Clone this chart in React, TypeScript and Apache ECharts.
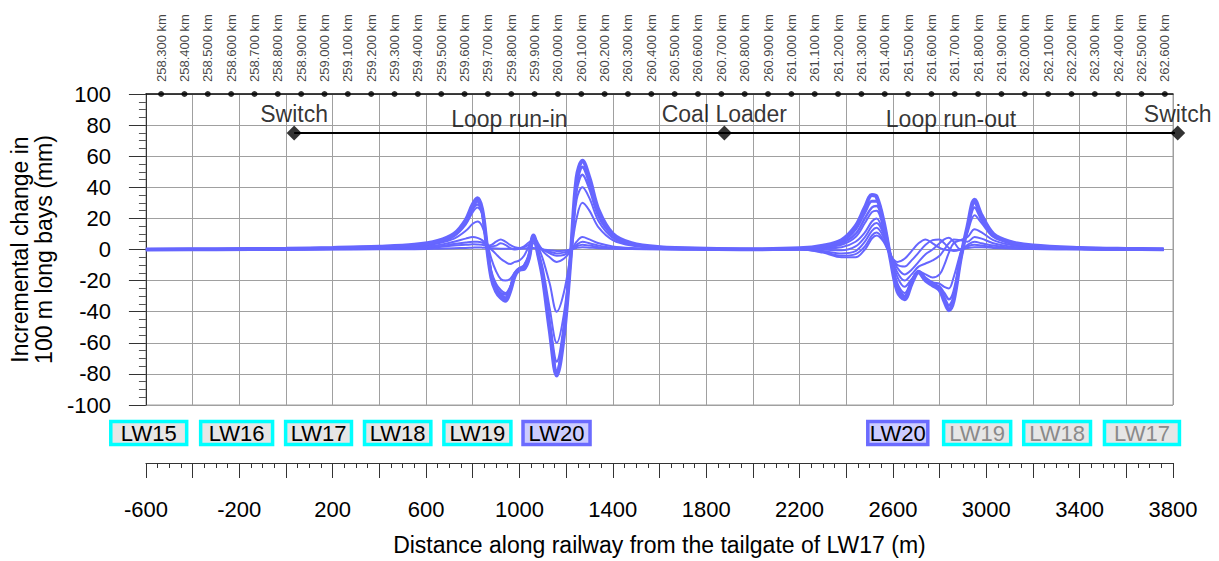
import React, { useEffect, useRef } from 'react';
import * as echarts from 'echarts';

const FONT = '"Liberation Sans", Arial, Helvetica, sans-serif';

// distance along railway (m) sample positions
const X_LEFT = [-600, -300, 0, 200, 400, 550, 650, 720, 770, 800, 820, 840, 860, 880, 900, 920, 940, 960, 980, 1000, 1020, 1040, 1060, 1080, 1100, 1130, 1160, 1190, 1220, 1245, 1270, 1300, 1340, 1400, 1480, 1600, 1800, 2000];
const X_RIGHT = [2200, 2300, 2380, 2440, 2480, 2510, 2530, 2560, 2590, 2620, 2650, 2680, 2710, 2740, 2770, 2800, 2820, 2840, 2860, 2890, 2920, 2950, 2980, 3030, 3100, 3200, 3400, 3600, 3760];
const DIST = [...X_LEFT, ...X_RIGHT];

// incremental change (mm), one array per survey stage
const S1 = [0, 0, 0, 0, 0.1, 0.2, 0.5, 0.8, 1, 1.2, 1.3, 1.2, 1, 0.8, 0.6, 0.5, 0.5, 0.5, 0.5, 0.5, 0.6, 0.8, 1, 0.5, 0, -0.5, -1, -0.8, 0, 1, 1.5, 1.2, 0.8, 0.5, 0.3, 0.1, 0, 0,
  0, -2, -5, -5, 0, 7, 9, 5, -4, -8, -6, -1, 4, 6.5, 4, 1, 0, -0.5, -0.5, 0, 1, 1.5, 1.5, 1, 0.6, 0.3, 0.1, 0, 0];
const S2 = [0, 0, 0.1, 0.2, 0.4, 0.8, 1.5, 2.5, 3, 3.3, 3.2, 3, 2.5, 3, 5, 6.5, 5, 3, 1.5, 1, 1.5, 3, 4, 2, 0, -1.5, -2.5, -2, 0, 2, 3, 2.5, 1.5, 0.8, 0.4, 0.2, 0, 0,
  0, -1.5, -4, -3, 2, 9, 11, 6, -4, -10, -11, -7, -2, 3, 6, 6.5, 4, 1, -1, 0, 2, 3, 2.5, 1.5, 0.8, 0.4, 0.1, 0, 0];
const S3 = [0, 0, 0.1, 0.3, 0.6, 1.2, 2, 3.5, 4.5, 5, 5, 4.5, 3, 2, 2.5, 4, 3, 1, 0, 0.5, 2, 4.5, 6, 3, 0, -2.5, -4, -3.5, -0.5, 3, 5, 4, 2.5, 1.2, 0.6, 0.3, 0.1, 0,
  0, -1, -2.5, -1, 5, 12, 14, 8, -3, -12, -16, -13, -8, -3, 0, 4, 6.5, 7.5, 5, 0, 3, 5, 4, 2.5, 1.2, 0.5, 0.2, 0, 0];
const S4 = [0, 0, 0.1, 0.3, 0.7, 1.5, 2.8, 5, 7, 8, 7.5, 6, 3, 0, -3, -6, -8, -9.3, -8, -7, -4, 2, 8.5, 4, -1, -5, -8, -6, -1, 5, 8, 6.5, 4, 2, 1, 0.4, 0.1, 0,
  0.2, 0, -0.5, 2, 8, 15, 17, 10, -3, -15, -20, -16, -11, -9, -7, -4, 0, 4, 6.5, 6, 5, 8, 7, 4, 2, 0.8, 0.3, 0.1, 0];
const S5 = [0, 0.1, 0.2, 0.5, 1, 2, 3.8, 7, 12, 16.5, 18, 15, 5, -6, -14, -19, -20, -19, -15, -13, -10, -3, 8.5, 2, -6, -22, -40, -28, -3, 20, 30, 25, 14, 6, 2.5, 1, 0.3, 0.1,
  0.3, 0.8, 1.5, 5, 11, 18, 20, 11, -4, -18, -24, -19, -14, -16, -18, -16, -10, -2, 4, 6, 8, 13, 11, 6, 3, 1.2, 0.4, 0.1, 0];
const S6 = [0, 0.1, 0.3, 0.6, 1.3, 2.4, 4.5, 8.5, 16, 24, 27, 23, 3, -14, -22, -26, -28, -24, -15, -12, -10, -4, 9, -1, -12, -38, -60, -42, -4, 32, 40, 33, 18, 7.5, 3, 1.2, 0.4, 0.2,
  0.4, 1.4, 3, 8, 17, 24, 25, 13, -5, -22, -28, -20, -14, -18, -21, -22, -24, -25, -18, -2, 11, 22, 17, 8, 4, 1.8, 0.7, 0.3, 0.1];
const S7 = [0, 0.2, 0.4, 0.8, 1.6, 2.6, 4.8, 9, 17, 26, 29, 24, 3, -16, -24, -28, -29, -25, -15, -12, -11.5, -5.5, 8.5, -3, -16, -47, -72, -50, -4, 38, 48, 39, 21, 9, 3.5, 1.3, 0.4, 0.2,
  0.5, 1.8, 4, 10, 20, 27, 28, 15, -5, -24, -30, -21, -14, -19, -22, -24, -28, -32, -27, -5, 13, 27, 19, 9, 4.5, 2, 0.8, 0.3, 0.1];
const S8 = [0, 0.2, 0.4, 0.9, 1.7, 2.8, 5, 9.5, 18, 27, 31, 25, 3, -17, -25, -29, -31, -26, -16, -12.5, -12, -6, 9, -3, -17, -50, -78, -54, -4, 42, 53, 43, 23, 9.5, 3.8, 1.4, 0.5, 0.2,
  0.6, 2, 5, 13, 24, 31, 31, 17, -5, -25, -30, -21, -14, -19, -22, -25, -31, -36, -31, -6, 14, 30, 21, 9.5, 4.8, 2.3, 0.9, 0.4, 0.2];
const S9 = [0, 0.2, 0.5, 1, 1.8, 3, 5.5, 10, 19, 29, 33, 26, 3, -18, -27, -31, -33, -27, -17, -13, -12.5, -6, 9, -3, -18, -52, -81, -56, -4, 46, 57, 46, 25, 10, 4, 1.5, 0.5, 0.2,
  0.8, 2.5, 6, 15, 27, 35, 34, 18, -6, -27, -32, -22, -14.6, -20, -23, -26, -33, -39, -33, -6, 15, 32, 22, 10, 5, 2.5, 1, 0.4, 0.2];
const STAGES = [S1, S2, S3, S4, S5, S6, S7, S8, S9];

// chainage labels along the top
const KM_LABELS = ['258.300', '258.400', '258.500', '258.600', '258.700', '258.800', '258.900', '259.000', '259.100', '259.200',
  '259.300', '259.400', '259.500', '259.600', '259.700', '259.800', '259.900', '260.000', '260.100', '260.200',
  '260.300', '260.400', '260.500', '260.600', '260.700', '260.800', '260.900', '261.000', '261.100', '261.200',
  '261.300', '261.400', '261.500', '261.600', '261.700', '261.800', '261.900', '262.000', '262.100', '262.200',
  '262.300', '262.400', '262.500', '262.600'];
const KM_FIRST = 258.3;
const KM_FIRST_DIST = -535; // distance (m) of the first chainage mark

// railway features
const FEATURE_NAMES = ['Switch', 'Coal Loader', 'Switch'];
const FEATURE_DIST = [35, 1878, 3820];
const FEATURE_LEVEL = 75;
const FEATURE_LABEL_LEVEL = 87.3;
const SEGMENT_NAMES = ['Loop run-in', 'Loop run-out'];
const SEGMENT_DIST = [957, 2849];
const SEGMENT_LABEL_LEVEL = 84.2;

// longwall panels drawn under the chart
const PANEL_NAMES = ['LW15', 'LW16', 'LW17', 'LW18', 'LW19', 'LW20', 'LW20', 'LW19', 'LW18', 'LW17'];
const PANEL_FROM = [-757, -372, -8, 330, 670, 1009, 2486, 2811, 3154, 3500];
const PANEL_TO = [-419, -51, 287, 627, 970, 1309, 2756, 3111, 3453, 3834];
const PANEL_STATE = ['mined', 'mined', 'mined', 'mined', 'mined', 'active', 'active', 'dim', 'dim', 'dim'];

const LINE_COLOR = '#6666ff';
const GRID_COLOR = '#a0a0a0';

export default function App() {
  const ref = useRef<HTMLDivElement>(null);

  useEffect(() => {
    document.body.style.margin = '0';
    if (!ref.current) return;
    const chart = echarts.init(ref.current, undefined, { renderer: 'svg' });

    const widths = [2, 2, 2, 2, 2, 2, 2.5, 3, 4];
    const lineSeries = STAGES.map((s, i) => ({
      type: 'line',
      name: 'stage' + (i + 1),
      data: DIST.map((d, j) => [d, s[j]]),
      showSymbol: false,
      symbol: 'none',
      smooth: 0.35,
      silent: true,
      z: 3,
      lineStyle: { color: LINE_COLOR, width: widths[i] },
    }));

    const kmData = KM_LABELS.map((k) => [Math.round((parseFloat(k) - KM_FIRST) * 1000) + KM_FIRST_DIST, 100, k]);

    const option: any = {
      animation: false,
      textStyle: { fontFamily: FONT },
      grid: { left: 145, right: 46, top: 94, bottom: 151, show: true, borderColor: GRID_COLOR, borderWidth: 1 },
      xAxis: [
        {
          type: 'value', position: 'bottom', min: -600, max: 3800, interval: 200, offset: 58,
          axisLine: { show: true, onZero: false, lineStyle: { color: '#333', width: 1 } },
          axisTick: { show: true, inside: false, length: 15, lineStyle: { color: '#333' } },
          minorTick: { show: true, splitNumber: 4, length: 5, lineStyle: { color: '#333' } },
          splitLine: { show: true, lineStyle: { color: GRID_COLOR, width: 1 } },
          axisLabel: {
            margin: 35, fontSize: 22, color: '#000', fontFamily: FONT,
            formatter: (v: number) => (((v + 600) % 400 === 0) ? String(v) : ''),
          },
          name: 'Distance along railway from the tailgate of LW17 (m)',
          nameLocation: 'middle', nameGap: 70,
          nameTextStyle: { fontSize: 23, color: '#000', fontFamily: FONT },
        },
        {
          type: 'value', position: 'top', min: -600, max: 3800,
          axisLine: { show: true, onZero: false, lineStyle: { color: '#111', width: 1.5 } },
          axisTick: { show: false }, axisLabel: { show: false }, splitLine: { show: false },
        },
      ],
      yAxis: {
        type: 'value', min: -100, max: 100, interval: 20,
        axisLine: { show: true, onZero: false, lineStyle: { color: '#333' } },
        axisTick: { show: true, length: 17, lineStyle: { color: '#333' } },
        minorTick: { show: true, splitNumber: 4, length: 7, lineStyle: { color: '#555' } },
        splitLine: { show: true, lineStyle: { color: GRID_COLOR } },
        axisLabel: { margin: 35, fontSize: 22, color: '#000', fontFamily: FONT },
        name: 'Incremental change in\n100 m long bays (mm)',
        nameLocation: 'middle', nameGap: 88,
        nameTextStyle: { fontSize: 23, lineHeight: 24, color: '#000', fontFamily: FONT },
      },
      series: [
        ...lineSeries,
        {
          type: 'line', name: 'railway', data: [[FEATURE_DIST[0], FEATURE_LEVEL], [FEATURE_DIST[2], FEATURE_LEVEL]],
          symbol: 'none', clip: false, silent: true, z: 5,
          lineStyle: { color: '#000', width: 2 },
        },
        {
          type: 'scatter', name: 'features', data: FEATURE_DIST.map((d) => [d, FEATURE_LEVEL]),
          symbol: 'diamond', symbolSize: 15, clip: false, silent: true, z: 6,
          itemStyle: { color: '#000' },
        },
        {
          type: 'scatter', name: 'featureLabels',
          data: FEATURE_DIST.map((d, i) => ({ value: [d, FEATURE_LABEL_LEVEL], name: FEATURE_NAMES[i] })),
          symbolSize: 0, clip: false, silent: true, z: 7,
          label: { show: true, position: 'inside', formatter: '{b}', fontSize: 23, color: '#000', fontFamily: FONT, align: 'center', verticalAlign: 'middle' },
        },
        {
          type: 'scatter', name: 'segmentLabels',
          data: SEGMENT_DIST.map((d, i) => ({ value: [d, SEGMENT_LABEL_LEVEL], name: SEGMENT_NAMES[i] })),
          symbolSize: 0, clip: false, silent: true, z: 7,
          label: { show: true, position: 'inside', formatter: '{b}', fontSize: 23, color: '#000', fontFamily: FONT, align: 'center', verticalAlign: 'middle' },
        },
        {
          type: 'scatter', name: 'chainage', data: kmData,
          symbol: 'circle', symbolSize: 6, clip: false, silent: true, z: 8,
          itemStyle: { color: '#000' },
          label: {
            show: true, position: 'top', distance: 9, rotate: 90, align: 'left', verticalAlign: 'middle',
            fontSize: 13, color: '#111', fontFamily: FONT,
            formatter: (p: any) => p.data[2] + ' km',
          },
        },
        {
          type: 'custom', name: 'panels',
          data: PANEL_FROM.map((f, i) => [f, PANEL_TO[i], 0]),
          encode: { x: [0, 1], y: 2 },
          clip: false, silent: true, z: 9,
          renderItem: (params: any, api: any) => {
            const i = params.dataIndex;
            const x0 = api.coord([api.value(0), 0])[0];
            const x1 = api.coord([api.value(1), 0])[0];
            const yBase = api.coord([0, -100])[1];
            const y = yBase + 16.5;
            const h = 23;
            const st = PANEL_STATE[i];
            return {
              type: 'group',
              children: [
                {
                  type: 'rect',
                  shape: { x: x0 + 1.5, y, width: x1 - x0 - 3, height: h },
                  style: { fill: st === 'active' ? '#ccccff' : '#e6e6e6', stroke: st === 'active' ? '#6b6bff' : '#00ffff', lineWidth: 3.5 },
                },
                {
                  type: 'text',
                  style: {
                    text: PANEL_NAMES[i], x: (x0 + x1) / 2, y: y + h / 2 + 0.5,
                    align: 'center', verticalAlign: 'middle', fontSize: 22, fontFamily: FONT,
                    fill: st === 'dim' ? '#8a8a8a' : '#000',
                  },
                },
              ],
            };
          },
        },
      ],
    };

    chart.setOption(option);
    return () => chart.dispose();
  }, []);

  return <div ref={ref} style={{ width: 1219, height: 561 }} />;
}
